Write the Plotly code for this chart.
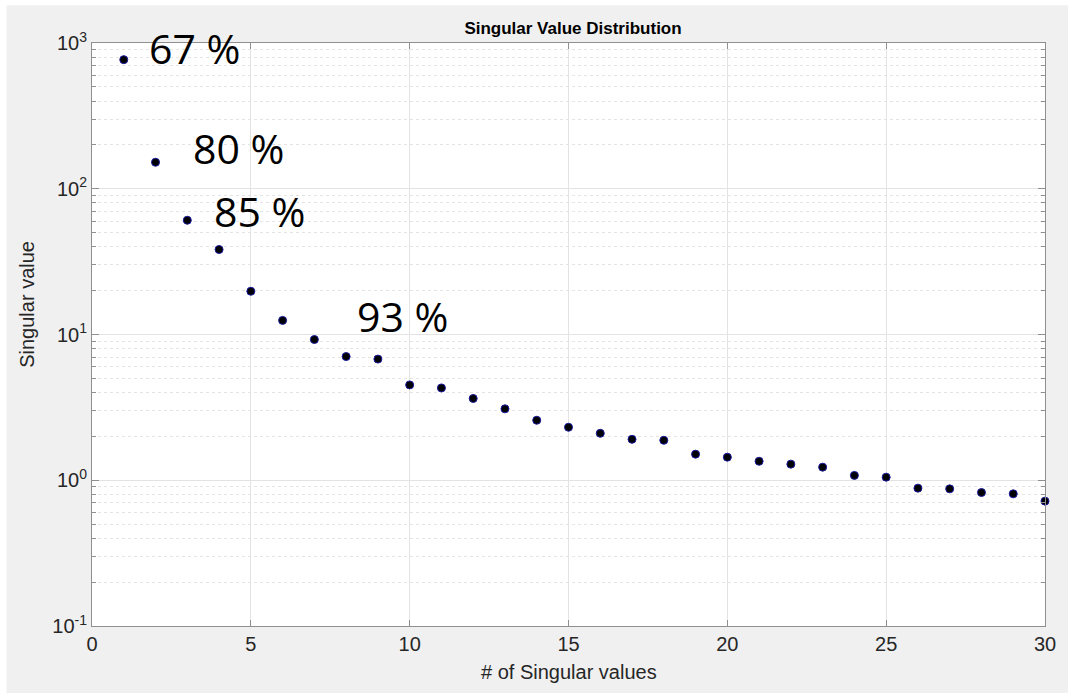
import math
import plotly.graph_objects as go

# ---- data ----
index = list(range(1, 31))
singular_values = [769, 152, 60.8, 38.3, 19.8, 12.5, 9.24, 7.06, 6.78, 4.51,
                   4.30, 3.64, 3.09, 2.58, 2.31, 2.10, 1.91, 1.88, 1.51, 1.44,
                   1.35, 1.29, 1.23, 1.08, 1.05, 0.883, 0.873, 0.824, 0.807, 0.719]

label_texts = ["67 %", "80 %", "85 %", "93 %"]
label_x = [1.74, 3.11, 3.79, 8.28]
label_y = [920, 190, 70, 13.5]

x_tickvals = [0, 5, 10, 15, 20, 25, 30]
y_tickvals = [0.1, 1, 10, 100, 1000]
y_ticktext = ["10<sup>-1</sup>", "10<sup>0</sup>", "10<sup>1</sup>", "10<sup>2</sup>", "10<sup>3</sup>"]
y_minorvals = [m * d for d in [0.1, 1, 10, 100] for m in range(2, 10)]

AX = "#8f8f8f"
TXT = "#262626"

fig = go.Figure()
fig.add_trace(go.Scatter(
    x=index, y=singular_values, mode="markers",
    marker=dict(size=8, color="black", line=dict(color="#1a1aa0", width=1)),
    cliponaxis=False, showlegend=False,
))

for t, x, y in zip(label_texts, label_x, label_y):
    fig.add_annotation(x=x, y=math.log10(y), xref="x", yref="y", text=t,
                       showarrow=False, xanchor="left", yanchor="middle",
                       font=dict(family="Open Sans", size=41, color="black"))

fig.add_annotation(x=-65/962, y=0.552, xref="paper", yref="paper", text="Singular value",
                   textangle=-90, showarrow=False, xanchor="center", yanchor="middle",
                   font=dict(family="Liberation Sans, Arial", size=20, color=TXT))
fig.add_annotation(x=0.5, y=-0.079, xref="paper", yref="paper", text="# of Singular values",
                   showarrow=False, xanchor="center", yanchor="middle",
                   font=dict(family="Liberation Sans, Arial", size=20, color=TXT))

# thin white strips at top and left of the gray figure background
fig.add_shape(type="rect", xref="paper", yref="paper",
              x0=-0.2, x1=1.2, y0=1 + 37.7/583.3, y1=1.2,
              fillcolor="white", line_width=0, layer="above")
fig.add_shape(type="rect", xref="paper", yref="paper",
              x0=-0.2, x1=-86.3/962, y0=-0.2, y1=1.2,
              fillcolor="white", line_width=0, layer="above")

fig.update_layout(
    width=1068, height=693,
    margin=dict(l=92, r=14, t=43, b=67),
    paper_bgcolor="#f0f0f0", plot_bgcolor="white",
    title=dict(text="<b>Singular Value Distribution</b>", x=573/1068, xanchor="center",
               y=1 - 28/693, yanchor="middle",
               font=dict(family="Liberation Sans, Arial", size=17, color="black")),
    xaxis=dict(range=[0, 30], tickvals=x_tickvals, ticks="inside", ticklen=6,
               tickcolor=AX, showline=True, linecolor=AX, linewidth=1, mirror="ticks",
               showgrid=True, gridcolor="#e3e3e3", gridwidth=1, zeroline=False,
               tickfont=dict(family="Liberation Sans, Arial", size=20, color=TXT)),
    yaxis=dict(type="log", range=[-1, 3], tickvals=y_tickvals, ticktext=y_ticktext,
               ticks="inside", ticklen=7, tickcolor=AX, showline=True, linecolor=AX,
               linewidth=1, mirror="ticks", showgrid=True, gridcolor="#e3e3e3",
               zeroline=False,
               minor=dict(tickmode="array", tickvals=y_minorvals, ticks="inside",
                          ticklen=4, tickcolor=AX, showgrid=True,
                          gridcolor="#e4e4e4", griddash="dot", gridwidth=1),
               tickfont=dict(family="Liberation Sans, Arial", size=20, color=TXT)),
)

fig.write_html("out.html")
